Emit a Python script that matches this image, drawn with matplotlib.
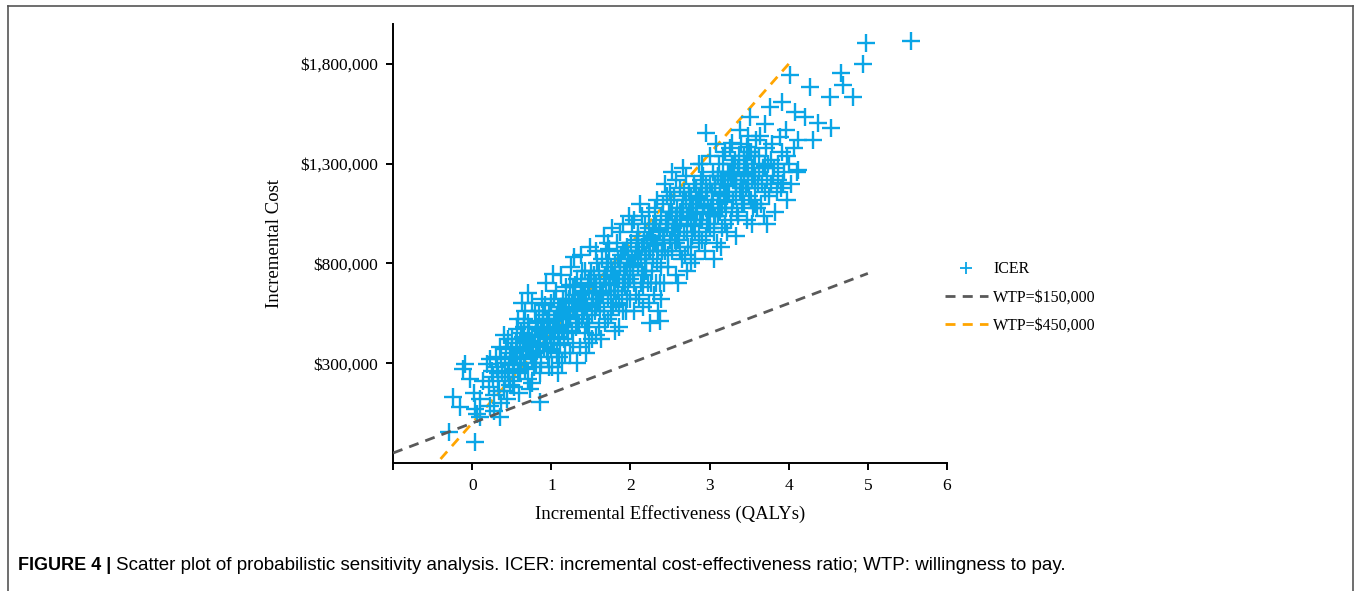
import matplotlib
matplotlib.use("Agg")
import matplotlib.pyplot as plt
from matplotlib.lines import Line2D
from matplotlib.ticker import FuncFormatter

# PSA iterations: incremental effectiveness (QALYs), incremental cost (thousand $)
icer_pts = [
    # sparse lower-left
    (0.04, -96), (-0.29, -45), (-0.24, 130), (-0.09, 295), (-0.03, 220), (-0.15, 80),
    (0.04, 70), (0.10, 30), (0.06, 45), (0.35, 30), (0.86, 105), (0.19, 295),
    (0.10, 120), (0.23, 85), (-0.12, 270), (0.14, 210), (0.02, 150),
    # x 0.2 - 0.5
    (0.21, 180), (0.25, 260), (0.28, 140), (0.30, 330), (0.33, 210), (0.35, 380),
    (0.38, 250), (0.40, 160), (0.42, 300), (0.45, 420), (0.47, 230), (0.49, 350),
    (0.22, 320), (0.27, 60), (0.36, 100), (0.44, 120), (0.31, 280), (0.40, 440),
    (0.48, 190), (0.26, 230),
    # x 0.5 - 0.8
    (0.52, 270), (0.55, 400), (0.57, 330), (0.58, 520), (0.60, 250), (0.62, 450),
    (0.64, 370), (0.66, 300), (0.67, 560), (0.69, 410), (0.70, 220), (0.72, 480),
    (0.74, 340), (0.75, 600), (0.77, 390), (0.78, 280), (0.80, 510), (0.53, 180),
    (0.59, 150), (0.63, 600), (0.71, 650), (0.76, 200), (0.79, 440), (0.56, 470),
    (0.68, 380), (0.73, 170), (0.65, 520),
    # x 0.8 - 1.2
    (0.82, 360), (0.84, 560), (0.85, 430), (0.87, 300), (0.88, 620), (0.90, 480),
    (0.91, 380), (0.93, 700), (0.95, 520), (0.96, 330), (0.98, 450), (1.00, 600),
    (1.01, 280), (1.03, 510), (1.04, 400), (1.06, 660), (1.07, 350), (1.09, 560),
    (1.10, 470), (1.12, 740), (1.13, 300), (1.15, 620), (1.16, 420), (1.18, 530),
    (1.19, 680), (0.86, 250), (0.92, 590), (0.99, 370), (1.05, 470), (1.11, 390),
    (1.17, 350), (1.02, 745), (0.94, 430), (1.08, 250), (1.14, 550), (0.89, 480),
    # x 1.2 - 1.6
    (1.21, 450), (1.22, 620), (1.24, 540), (1.25, 780), (1.27, 400), (1.28, 680),
    (1.30, 560), (1.31, 480), (1.33, 720), (1.34, 610), (1.36, 380), (1.37, 840),
    (1.39, 520), (1.40, 650), (1.42, 450), (1.43, 760), (1.45, 580), (1.46, 690),
    (1.48, 500), (1.49, 880), (1.51, 620), (1.52, 420), (1.54, 740), (1.55, 560),
    (1.57, 660), (1.58, 800), (1.60, 480), (1.23, 350), (1.29, 830), (1.35, 500),
    (1.41, 570), (1.47, 400), (1.53, 650), (1.59, 600), (1.26, 600), (1.32, 300),
    (1.38, 700), (1.44, 350), (1.50, 760), (1.56, 440),
    # x 1.6 - 2.0
    (1.61, 700), (1.62, 560), (1.64, 820), (1.65, 650), (1.67, 940), (1.68, 500),
    (1.70, 760), (1.71, 620), (1.73, 870), (1.74, 700), (1.76, 540), (1.77, 980),
    (1.79, 660), (1.80, 800), (1.82, 600), (1.83, 900), (1.85, 720), (1.86, 480),
    (1.88, 840), (1.89, 640), (1.91, 1000), (1.92, 760), (1.94, 560), (1.95, 880),
    (1.97, 700), (1.98, 1040), (2.00, 620), (1.63, 420), (1.69, 860), (1.75, 780),
    (1.81, 460), (1.87, 960), (1.93, 680), (1.99, 800), (1.66, 720), (1.72, 520),
    (1.78, 740), (1.84, 820), (1.90, 560), (1.96, 780),
    # x 2.0 - 2.4
    (2.01, 900), (2.03, 740), (2.04, 1020), (2.06, 820), (2.07, 640), (2.09, 960),
    (2.10, 780), (2.12, 1100), (2.13, 700), (2.15, 880), (2.16, 580), (2.18, 1000),
    (2.19, 820), (2.21, 920), (2.22, 700), (2.24, 1060), (2.25, 860), (2.27, 760),
    (2.28, 980), (2.30, 640), (2.31, 900), (2.33, 1120), (2.34, 800), (2.36, 960),
    (2.37, 700), (2.39, 1040), (2.40, 860), (2.05, 560), (2.11, 620), (2.17, 740),
    (2.23, 600), (2.29, 820), (2.35, 560), (2.08, 860), (2.14, 1040), (2.20, 760),
    (2.26, 940), (2.32, 700), (2.38, 620), (2.25, 500), (2.37, 510),
    # x 2.4 - 2.8
    (2.41, 1100), (2.43, 900), (2.44, 1200), (2.46, 980), (2.47, 780), (2.49, 1060),
    (2.50, 920), (2.52, 1260), (2.53, 860), (2.55, 1140), (2.56, 1000), (2.58, 740),
    (2.59, 1080), (2.61, 940), (2.62, 1180), (2.64, 1020), (2.65, 820), (2.67, 1120),
    (2.68, 960), (2.70, 1240), (2.71, 1040), (2.73, 880), (2.74, 1160), (2.76, 1000),
    (2.77, 800), (2.79, 1080), (2.80, 1200), (2.42, 700), (2.48, 840), (2.54, 980),
    (2.60, 700), (2.66, 1280), (2.72, 760), (2.78, 940), (2.45, 1020), (2.51, 1120),
    (2.57, 900), (2.63, 1060), (2.69, 840), (2.75, 1100),
    # x 2.8 - 3.2
    (2.81, 960), (2.83, 1180), (2.84, 1060), (2.86, 1300), (2.87, 900), (2.89, 1140),
    (2.90, 1020), (2.92, 1240), (2.93, 1100), (2.95, 940), (2.96, 1200), (2.98, 1080),
    (3.00, 1340), (3.01, 980), (3.03, 1160), (3.04, 1260), (3.06, 1040), (3.07, 1200),
    (3.09, 900), (3.10, 1120), (3.12, 1300), (3.13, 1060), (3.15, 1220), (3.16, 980),
    (3.18, 1140), (3.19, 1360), (2.82, 820), (2.88, 1020), (2.94, 860), (3.02, 1080),
    (3.08, 1400), (3.14, 880), (2.85, 1120), (2.91, 1300), (2.97, 1000), (3.05, 820),
    (3.11, 1040), (3.17, 1260), (2.95, 1456),
    # x 3.2 - 3.6
    (3.21, 1080), (3.23, 1260), (3.24, 1160), (3.26, 1380), (3.27, 1020), (3.29, 1220),
    (3.30, 1120), (3.32, 1320), (3.33, 1200), (3.35, 1060), (3.36, 1280), (3.38, 1160),
    (3.40, 1400), (3.41, 1100), (3.43, 1240), (3.44, 1340), (3.46, 1180), (3.47, 1020),
    (3.49, 1260), (3.50, 1140), (3.52, 1360), (3.53, 1220), (3.55, 1080), (3.56, 1300),
    (3.58, 1180), (3.59, 1420), (3.22, 960), (3.28, 1300), (3.34, 940), (3.42, 1180),
    (3.48, 1440), (3.54, 1000), (3.57, 1240), (3.17, 1336), (3.28, 1403), (3.38, 1470),
    (3.47, 1386), (3.51, 1536),
    # x 3.6 - 4.2
    (3.61, 1200), (3.63, 1340), (3.65, 1100), (3.67, 1280), (3.69, 1040), (3.71, 1380),
    (3.73, 1220), (3.75, 1140), (3.77, 1320), (3.80, 1240), (3.83, 1060), (3.86, 1300),
    (3.90, 1180), (3.94, 1260), (3.98, 1120), (4.03, 1200), (4.10, 1260), (3.64, 1440),
    (3.72, 1000), (3.79, 1400), (3.85, 1160), (3.92, 1360), (4.00, 1300), (4.07, 1380),
    (3.70, 1500), (3.70, 1286), (3.93, 1205), (3.98, 1336), (4.12, 1270), (3.89, 1436),
    (3.97, 1470), (4.12, 1420), (4.31, 1420), (4.37, 1503), (4.54, 1478), (4.20, 1536),
    (4.08, 1561), (3.91, 1611), (3.76, 1585),
    # upper-right outliers
    (4.02, 1745), (4.27, 1686), (4.52, 1633), (4.81, 1636), (4.69, 1695), (4.66, 1753),
    (4.94, 1798), (4.98, 1906), (5.54, 1916),
    # dense core, second pass
    (0.32, 250), (0.37, 320), (0.41, 230), (0.46, 290), (0.50, 420), (0.54, 330),
    (0.58, 260), (0.43, 370), (0.34, 160), (0.51, 210),
    (0.61, 360), (0.64, 430), (0.67, 270), (0.70, 500), (0.73, 410), (0.76, 330),
    (0.79, 560), (0.83, 470), (0.86, 390), (0.89, 540), (0.66, 480), (0.81, 300),
    (0.91, 450), (0.94, 360), (0.97, 560), (1.00, 420), (1.03, 620), (1.06, 520),
    (1.09, 430), (1.12, 580), (1.15, 490), (1.18, 610), (0.97, 280), (1.10, 330),
    (1.21, 530), (1.24, 690), (1.27, 570), (1.30, 640), (1.33, 500), (1.36, 600),
    (1.39, 760), (1.42, 620), (1.45, 500), (1.48, 720), (1.26, 460), (1.43, 660),
    (1.51, 540), (1.54, 680), (1.57, 580), (1.60, 760), (1.63, 640), (1.66, 560),
    (1.69, 700), (1.72, 800), (1.75, 640), (1.78, 580), (1.56, 860), (1.71, 900),
    (1.81, 720), (1.84, 660), (1.87, 780), (1.90, 700), (1.93, 860), (1.96, 620),
    (1.99, 740), (2.02, 820), (2.05, 700), (2.08, 920), (1.85, 590), (2.02, 1000),
    (2.11, 860), (2.14, 760), (2.17, 920), (2.20, 840), (2.23, 980), (2.26, 700),
    (2.29, 900), (2.32, 1000), (2.35, 860), (2.38, 780), (2.16, 680), (2.31, 1080),
    (2.41, 940), (2.44, 860), (2.47, 1020), (2.50, 1160), (2.53, 1060), (2.56, 920),
    (2.59, 1000), (2.62, 860), (2.65, 1080), (2.68, 1160), (2.46, 1140), (2.58, 1220),
    (2.71, 960), (2.74, 1060), (2.77, 1140), (2.80, 1000), (2.83, 1080), (2.86, 960),
    (2.89, 1220), (2.92, 1060), (2.95, 1160), (2.98, 1000), (2.76, 880), (2.90, 920),
    (3.01, 1200), (3.04, 1100), (3.07, 1040), (3.10, 1240), (3.13, 1160), (3.16, 1080),
    (3.19, 1200), (3.22, 1140), (3.25, 1260), (3.28, 1080), (3.05, 960), (3.20, 1000),
    (3.31, 1240), (3.34, 1140), (3.37, 1340), (3.40, 1200), (3.43, 1100), (3.46, 1300),
    (3.49, 1200), (3.52, 1120), (3.55, 1240), (3.58, 1100), (3.36, 1040),
    (3.62, 1260), (3.66, 1200), (3.70, 1160), (3.74, 1300), (3.78, 1200), (3.82, 1280),
    (3.87, 1220), (3.60, 1080),
    # dense core, third pass (centre of the band)
    (0.45, 260), (0.48, 330), (0.53, 300), (0.57, 370), (0.62, 320), (0.66, 400),
    (0.72, 360), (0.75, 440), (0.83, 400), (0.87, 460), (0.93, 420), (0.96, 500),
    (1.02, 460), (1.07, 540), (1.13, 480), (1.16, 560), (1.23, 520), (1.27, 600),
    (1.32, 560), (1.37, 640), (1.44, 590), (1.47, 660), (1.53, 620), (1.57, 700),
    (1.63, 660), (1.68, 740), (1.73, 690), (1.77, 760), (1.83, 720), (1.87, 800),
    (1.93, 760), (1.97, 840), (2.03, 790), (2.07, 860), (2.13, 820), (2.17, 900),
    (2.23, 860), (2.27, 930), (2.33, 890), (2.37, 970), (2.43, 920), (2.47, 1000),
    (2.53, 960), (2.57, 1040), (2.63, 990), (2.67, 1060), (2.73, 1030), (2.77, 1100),
    (2.83, 1050), (2.87, 1130), (2.93, 1090), (2.97, 1160), (3.03, 1120), (3.07, 1180),
    (3.13, 1150), (3.17, 1220), (3.23, 1190), (3.27, 1250), (3.33, 1220), (3.37, 1280),
    (3.43, 1250), (3.47, 1320), (3.53, 1280), (3.57, 1340),
    (0.60, 290), (0.80, 350), (1.00, 400), (1.20, 460), (1.40, 540), (1.60, 600),
    (1.80, 660), (2.00, 720), (2.20, 800), (2.40, 860), (2.60, 920), (2.80, 990),
    (3.00, 1050), (3.20, 1110), (3.40, 1180),
    (0.50, 380), (0.70, 440), (0.90, 520), (1.10, 580), (1.30, 690), (1.50, 720),
    (1.70, 800), (1.90, 860), (2.10, 940), (2.30, 1000), (2.50, 1060), (2.70, 1120),
    (2.90, 1180), (3.10, 1240), (3.30, 1300), (3.50, 1360),
]
icer_x = [p[0] for p in icer_pts]
icer_y = [p[1] * 1000 for p in icer_pts]

wtp_low = 150000
wtp_high = 450000
wtp_low_x = [-1, 5]
wtp_high_x = [-0.4, 4]

x_ticks = [0, 1, 2, 3, 4, 5, 6]
y_ticks = [300000, 800000, 1300000, 1800000]

fig = plt.figure(figsize=(13.54, 5.91), dpi=100)
ax = fig.add_axes([0.2903, 0.2166, 0.4091, 0.7428])

ax.plot(wtp_high_x, [wtp_high * v for v in wtp_high_x], color='#FFA500',
        lw=2.0, dashes=(3.6, 2.6), label='WTP=$450,000', zorder=1)
ax.plot(icer_x, icer_y, linestyle='none', marker='+', markersize=13,
        markeredgewidth=1.7, color='#0AA5E6', label='ICER', zorder=2)
ax.plot(wtp_low_x, [wtp_low * v for v in wtp_low_x], color='#595959',
        lw=2.0, dashes=(3.6, 2.6), label='WTP=$150,000', zorder=3)

ax.set_xlim(-1, 6)
ax.set_ylim(-200000, 2000000)
ax.set_xticks([-1] + x_ticks)
ax.set_xticklabels([''] + [str(t) for t in x_ticks])
ax.set_yticks(y_ticks)
ax.yaxis.set_major_formatter(FuncFormatter(lambda v, p: '${:,.0f}'.format(v)))

for s in ['top', 'right']:
    ax.spines[s].set_visible(False)
for s in ['left', 'bottom']:
    ax.spines[s].set_linewidth(1.4)
    ax.spines[s].set_color('black')
ax.tick_params(direction='out', length=5, width=1.4, labelsize=12.5, pad=6)
for lab in ax.get_xticklabels() + ax.get_yticklabels():
    lab.set_fontfamily('Liberation Serif')

ax.set_xlabel('Incremental Effectiveness (QALYs)', fontsize=13.5,
              fontfamily='Liberation Serif', labelpad=8)
ax.set_ylabel('Incremental Cost', fontsize=13.5, fontfamily='Liberation Serif',
              labelpad=12)

handles, labels = ax.get_legend_handles_labels()
order = [1, 2, 0]
leg = ax.legend([handles[i] for i in order], [labels[i] for i in order],
                loc='center left', bbox_to_anchor=(0.687, 0.497),
                bbox_transform=fig.transFigure, frameon=False,
                prop={'family': 'Liberation Serif', 'size': 11.5},
                handlelength=2.7, handletextpad=0.35, labelspacing=0.75)
leg.legend_handles[0].set_markersize(9)
leg.legend_handles[0].set_markeredgewidth(1.3)

# figure frame (open at the bottom)
frame_kw = dict(color='#555555', lw=1.2, transform=fig.transFigure)
fig.add_artist(Line2D([8 / 1354, 1353 / 1354], [1 - 6 / 591, 1 - 6 / 591], **frame_kw))
fig.add_artist(Line2D([8 / 1354, 8 / 1354], [0, 1 - 6 / 591], **frame_kw))
fig.add_artist(Line2D([1353 / 1354, 1353 / 1354], [0, 1 - 6 / 591], **frame_kw))

# caption
cap_y = 1 - 566 / 591
t1 = fig.text(18 / 1354, cap_y, 'FIGURE 4 | ', fontsize=13, fontweight='bold',
              fontfamily='Liberation Sans', va='center')
fig.canvas.draw()
bb = t1.get_window_extent()
fig.text(bb.x1 / fig.bbox.width, cap_y,
         'Scatter plot of probabilistic sensitivity analysis. ICER: incremental '
         'cost-effectiveness ratio; WTP: willingness to pay.',
         fontsize=13.5, fontfamily='Liberation Sans', va='center')

fig.savefig('out.png', dpi=100)
